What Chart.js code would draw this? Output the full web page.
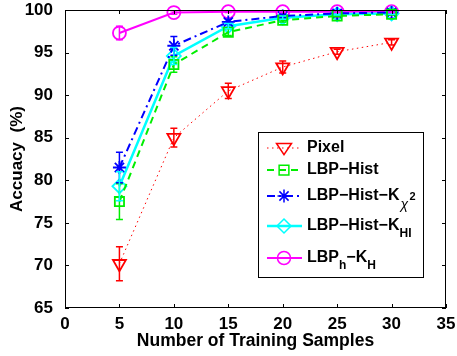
<!DOCTYPE html>
<html>
<head>
<meta charset="utf-8">
<script src="https://cdn.jsdelivr.net/npm/chart.js@4.4.1/dist/chart.umd.min.js"></script>
<style>
  html, body { margin: 0; padding: 0; background: #fff; }
  #wrap { width: 457px; height: 356px; }
</style>
</head>
<body>
<div id="wrap"><canvas id="chart" width="457" height="356"></canvas></div>
<script>
// training samples per class
const samples = [5, 10, 15, 20, 25, 30];

// accuracy (%) per method
const pixelAcc   = [70.2, 85.0, 90.5, 93.3, 95.1, 96.2];
const histAcc    = [77.5, 93.6, 97.4, 98.8, 99.3, 99.5];
const chiAcc     = [81.5, 95.8, 98.6, 99.3, 99.6, 99.7];
const hiAcc      = [79.3, 94.6, 98.1, 99.1, 99.5, 99.6];
const lbphAcc    = [97.3, 99.7, 99.8, 99.8, 99.8, 99.8];

// error bar half-heights
const pixelErr   = [2.0, 1.1, 0.9, 0.7, 0.3, 0.3];
const histErr    = [2.1, 0.9, 0.4, 0.2, 0.1, 0.1];
const chiErr     = [1.8, 1.1, 0.3, 0.2, 0.1, 0.1];
const hiErr      = [1.7, 1.0, 0.3, 0.2, 0.1, 0.1];
const lbphErr    = [0.8, 0.2, 0.1, 0.1, 0.1, 0.1];

const xTicks = [0, 5, 10, 15, 20, 25, 30, 35];
const yTicks = [65, 70, 75, 80, 85, 90, 95, 100];

const FONT = "'Liberation Sans', Arial, sans-serif";

function pts(vals) {
  return samples.map((s, i) => ({ x: s, y: vals[i] }));
}

const series = [
  { label: 'Pixel', data: pixelAcc, err: pixelErr, color: '#ff0000', dash: [1.5, 3.5], width: 1, style: 'triangle', rot: 180, radius: 7.5, sub: null },
  { label: 'LBP−Hist', data: histAcc, err: histErr, color: '#00ee00', dash: [7, 5], width: 2, style: 'rect', rot: 0, radius: 6.5, sub: null },
  { label: 'LBP−Hist−K', data: chiAcc, err: chiErr, color: '#0000ff', dash: [8, 4, 2, 4], width: 2, style: 'star', rot: 0, radius: 6.5, sub: 'chi' },
  { label: 'LBP−Hist−K', data: hiAcc, err: hiErr, color: '#00ffff', dash: [], width: 2.5, style: 'rectRot', rot: 0, radius: 7, sub: 'HI' },
  { label: 'LBP', data: lbphAcc, err: lbphErr, color: '#ff00ff', dash: [], width: 2, style: 'circle', rot: 0, radius: 6.5, sub: 'lbph' }
];

const datasets = series.map(s => ({
  label: s.label,
  data: pts(s.data),
  err: s.err,
  borderColor: s.color,
  backgroundColor: 'rgba(0,0,0,0)',
  borderWidth: s.width,
  borderDash: s.dash,
  pointStyle: s.style,
  rotation: s.rot,
  pointRadius: s.radius,
  pointBorderWidth: 1.8,
  pointBorderColor: s.color,
  pointBackgroundColor: 'rgba(0,0,0,0)',
  tension: 0,
  clip: false
}));

function drawMarker(ctx, style, x, y, r, color) {
  ctx.save();
  ctx.strokeStyle = color;
  ctx.lineWidth = 1.5;
  ctx.setLineDash([]);
  ctx.beginPath();
  if (style === 'triangle') {
    // pointing down
    ctx.moveTo(x - r, y - r * 0.6);
    ctx.lineTo(x + r, y - r * 0.6);
    ctx.lineTo(x, y + r * 0.9);
    ctx.closePath();
  } else if (style === 'rect') {
    ctx.rect(x - r * 0.75, y - r * 0.75, r * 1.5, r * 1.5);
  } else if (style === 'star') {
    for (let a = 0; a < 4; a++) {
      const t = a * Math.PI / 4;
      ctx.moveTo(x - Math.cos(t) * r, y - Math.sin(t) * r);
      ctx.lineTo(x + Math.cos(t) * r, y + Math.sin(t) * r);
    }
  } else if (style === 'rectRot') {
    ctx.moveTo(x, y - r);
    ctx.lineTo(x + r, y);
    ctx.lineTo(x, y + r);
    ctx.lineTo(x - r, y);
    ctx.closePath();
  } else {
    ctx.arc(x, y, r, 0, Math.PI * 2);
  }
  ctx.stroke();
  ctx.restore();
}

const errorBars = {
  id: 'errorBars',
  afterDatasetsDraw(chart) {
    const ctx = chart.ctx;
    const ys = chart.scales.y;
    chart.data.datasets.forEach((ds, i) => {
      const meta = chart.getDatasetMeta(i);
      ctx.save();
      ctx.strokeStyle = ds.borderColor;
      ctx.lineWidth = 1.5;
      ctx.setLineDash([]);
      meta.data.forEach((el, j) => {
        const v = ds.data[j].y, e = ds.err[j];
        const top = ys.getPixelForValue(Math.min(v + e, 100.3));
        const bot = ys.getPixelForValue(v - e);
        ctx.beginPath();
        ctx.moveTo(el.x, top); ctx.lineTo(el.x, bot);
        ctx.moveTo(el.x - 3.5, top); ctx.lineTo(el.x + 3.5, top);
        ctx.moveTo(el.x - 3.5, bot); ctx.lineTo(el.x + 3.5, bot);
        ctx.stroke();
      });
      ctx.restore();
    });
  }
};

const frame = {
  id: 'frame',
  afterDraw(chart) {
    const ctx = chart.ctx;
    const a = chart.chartArea;
    const xs = chart.scales.x, ys = chart.scales.y;
    ctx.save();
    ctx.strokeStyle = '#000';
    ctx.lineWidth = 1;
    ctx.setLineDash([]);
    ctx.strokeRect(a.left + 0.5, a.top + 0.5, a.right - a.left - 1, a.bottom - a.top - 1);
    ctx.beginPath();
    xTicks.forEach(t => {
      const px = Math.round(xs.getPixelForValue(t)) + 0.5;
      ctx.moveTo(px, a.bottom); ctx.lineTo(px, a.bottom - 4);
      ctx.moveTo(px, a.top); ctx.lineTo(px, a.top + 4);
    });
    yTicks.forEach(t => {
      const py = Math.round(ys.getPixelForValue(t)) + 0.5;
      ctx.moveTo(a.left, py); ctx.lineTo(a.left + 4, py);
      ctx.moveTo(a.right, py); ctx.lineTo(a.right - 4, py);
    });
    ctx.stroke();

    // legend box
    const lx = 258, ly = 132, lw = 165, lh = 145;
    ctx.fillStyle = '#fff';
    ctx.fillRect(lx, ly, lw, lh);
    ctx.strokeRect(lx + 0.5, ly + 0.5, lw, lh);
    const rows = [148, 170, 196, 226, 258];
    series.forEach((s, i) => {
      const y = rows[i];
      ctx.save();
      ctx.strokeStyle = s.color;
      ctx.lineWidth = s.width;
      ctx.setLineDash(s.dash);
      ctx.beginPath();
      ctx.moveTo(267, y); ctx.lineTo(302, y);
      ctx.stroke();
      ctx.restore();
      drawMarker(ctx, s.style, 284, y, s.radius, s.color);
      ctx.fillStyle = '#000';
      ctx.textBaseline = 'middle';
      ctx.textAlign = 'left';
      ctx.font = 'bold 16px ' + FONT;
      let x = 307;
      if (s.sub === 'lbph') {
        ctx.fillText('LBP', x, y);
        x += ctx.measureText('LBP').width;
        ctx.font = 'bold 12px ' + FONT;
        ctx.fillText('h', x, y + 8);
        x += ctx.measureText('h').width;
        ctx.font = 'bold 16px ' + FONT;
        ctx.fillText('−K', x, y);
        x += ctx.measureText('−K').width;
        ctx.font = 'bold 12px ' + FONT;
        ctx.fillText('H', x, y + 8);
      } else {
        ctx.fillText(s.label, x, y);
        x += ctx.measureText(s.label).width;
        if (s.sub === 'chi') {
          ctx.font = 'italic 14px ' + FONT;
          ctx.fillText('χ', x + 1, y + 9);
          ctx.font = 'bold 11px ' + FONT;
          ctx.fillText('2', x + 10, y + 1);
        } else if (s.sub === 'HI') {
          ctx.font = 'bold 12px ' + FONT;
          ctx.fillText('HI', x, y + 8);
        }
      }
    });
    ctx.restore();
  }
};

new Chart(document.getElementById('chart'), {
  type: 'line',
  data: { datasets },
  options: {
    responsive: false,
    animation: false,
    layout: { padding: { top: 10, right: 11, left: 7, bottom: 0 } },
    plugins: { legend: { display: false }, tooltip: { enabled: false } },
    scales: {
      x: {
        type: 'linear', min: 0, max: 35,
        afterBuildTicks: s => { s.ticks = xTicks.map(v => ({ value: v })); },
        grid: { display: false },
        border: { display: false },
        ticks: { color: '#000', font: { family: FONT, size: 17, weight: 'bold' }, padding: -2, maxRotation: 0 },
        title: { display: true, text: 'Number of Training Samples', color: '#000', font: { family: FONT, size: 17.5, weight: 'bold' }, padding: { top: -3, bottom: 4 } },
        afterFit: s => { s.height = 48; s.paddingLeft = 0; s.paddingRight = 0; }
      },
      y: {
        min: 65, max: 100,
        afterBuildTicks: s => { s.ticks = yTicks.map(v => ({ value: v })); },
        grid: { display: false },
        border: { display: false },
        ticks: { color: '#000', font: { family: FONT, size: 17, weight: 'bold' }, padding: 4 },
        title: { display: true, text: 'Accuacy  (%)', color: '#000', font: { family: FONT, size: 17, weight: 'bold' }, padding: { top: 0, bottom: 2 } },
        afterFit: s => { s.width = 58; s.paddingTop = 0; s.paddingBottom = 0; }
      }
    }
  },
  plugins: [errorBars, frame]
});
</script>
</body>
</html>
